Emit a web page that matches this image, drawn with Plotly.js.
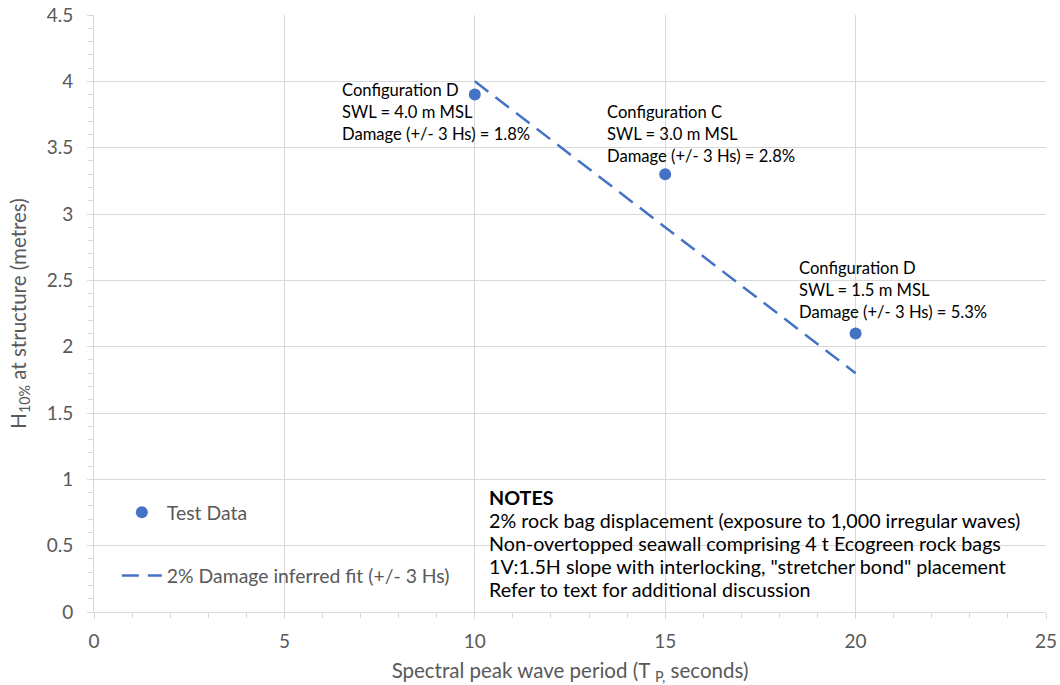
<!DOCTYPE html>
<html>
<head>
<meta charset="utf-8">
<script src="https://cdn.plot.ly/plotly-3.0.1.min.js"></script>
<style>html,body{margin:0;padding:0;background:#fff;}#chart{width:1060px;height:685px;}</style>
</head>
<body>
<div id="chart"></div>
<script>
// Test data points
const testPeriod = [10, 15, 20];
const testHeight = [3.9, 3.3, 2.1];
// Inferred 2% damage fit line
const fitPeriod = [10, 20];
const fitHeight = [4.0, 1.8];
// Axis ticks
const xTicks = [0, 5, 10, 15, 20, 25];
const yTicks = [0, 0.5, 1, 1.5, 2, 2.5, 3, 3.5, 4, 4.5];
// Labels
const seriesNames = ["Test Data", "2% Damage inferred fit (+/- 3 Hs)"];
const pointLabels = [
  ["Configuration D", "SWL = 4.0 m MSL", "Damage (+/- 3 Hs) = 1.8%"],
  ["Configuration C", "SWL = 3.0 m MSL", "Damage (+/- 3 Hs) = 2.8%"],
  ["Configuration D", "SWL = 1.5 m MSL", "Damage (+/- 3 Hs) = 5.3%"]
];
const notesLines = [
  "<b>NOTES</b>",
  "2% rock bag displacement (exposure to 1,000 irregular waves)",
  "Non-overtopped seawall comprising 4 t Ecogreen rock bags",
  "1V:1.5H slope with interlocking, \"stretcher bond\" placement",
  "Refer to text for additional discussion"
];

const blue = "#4472C4";
const grid = "#d9d9d9";
const tickGray = "#595959";
const FONT = "Lato, 'Open Sans', sans-serif";

const traces = [
  {
    x: testPeriod, y: testHeight, type: "scatter", mode: "markers",
    name: seriesNames[0], legendgroup: "a",
    marker: {color: blue, size: 12}
  },
  {
    x: fitPeriod, y: fitHeight, type: "scatter", mode: "lines",
    name: seriesNames[1], legendgroup: "b",
    line: {color: blue, width: 2.5, dash: "17px,9px"}
  }
];

// label block anchors (first line centre), layout only
const labelPos = [
  {x: 6.47, y: 3.937},
  {x: 13.43, y: 3.771},
  {x: 18.47, y: 2.594}
];

const annotations = [];
pointLabels.forEach((lines, i) => {
  lines.forEach((t, j) => {
    annotations.push({
      text: t, x: labelPos[i].x, y: labelPos[i].y, xref: "x", yref: "y",
      yshift: -22 * j,
      xanchor: "left", yanchor: "middle", align: "left", showarrow: false,
      font: {family: FONT, size: 16.6, color: "#000"}
    });
  });
});
notesLines.forEach((t, j) => {
  annotations.push({
    text: t, x: 10.33, y: 0.866, xref: "x", yref: "y",
    yshift: -23 * j,
    xanchor: "left", yanchor: "middle", align: "left", showarrow: false,
    font: {family: FONT, size: 19.7, color: "#000"}
  });
});

const layout = {
  width: 1060, height: 685,
  margin: {l: 94, r: 14, t: 15, b: 73},
  paper_bgcolor: "#fff", plot_bgcolor: "#fff",
  font: {family: FONT, color: tickGray},
  showlegend: true,
  legend: {
    x: 0.024, y: 0.199, xanchor: "left", yanchor: "top",
    bgcolor: "rgba(0,0,0,0)", borderwidth: 0,
    font: {family: FONT, size: 19.4, color: tickGray},
    itemwidth: 40, tracegroupgap: 35, traceorder: "grouped"
  },
  xaxis: {
    range: [0, 25], tickvals: xTicks, ticktext: xTicks.map(String),
    showgrid: true, gridcolor: grid, gridwidth: 1,
    showline: true, linecolor: grid, linewidth: 1,
    ticks: "outside", ticklen: 6, tickcolor: grid,
    minor: {dtick: 1, ticks: "outside", ticklen: 5, tickcolor: grid, showgrid: false},
    zeroline: false, ticklabelstandoff: 6,
    tickfont: {family: FONT, size: 19, color: tickGray},
    title: {text: "Spectral peak wave period (T <sub>P,</sub> seconds)", standoff: 12,
            font: {family: FONT, size: 20.5, color: tickGray}}
  },
  yaxis: {
    range: [0, 4.5], tickvals: yTicks, ticktext: yTicks.map(String),
    showgrid: true, gridcolor: grid, gridwidth: 1,
    showline: true, linecolor: grid, linewidth: 1,
    ticks: "outside", ticklen: 6, tickcolor: grid,
    minor: {dtick: 0.1, ticks: "outside", ticklen: 5, tickcolor: grid, showgrid: false},
    zeroline: false, ticklabelstandoff: 10,
    tickfont: {family: FONT, size: 19, color: tickGray},
    title: {text: "H<sub>10%</sub> at structure (metres)", standoff: 14,
            font: {family: FONT, size: 20.5, color: tickGray}}
  },
  annotations: annotations
};

Plotly.newPlot("chart", traces, layout, {displayModeBar: false, staticPlot: true});
</script>
</body>
</html>
